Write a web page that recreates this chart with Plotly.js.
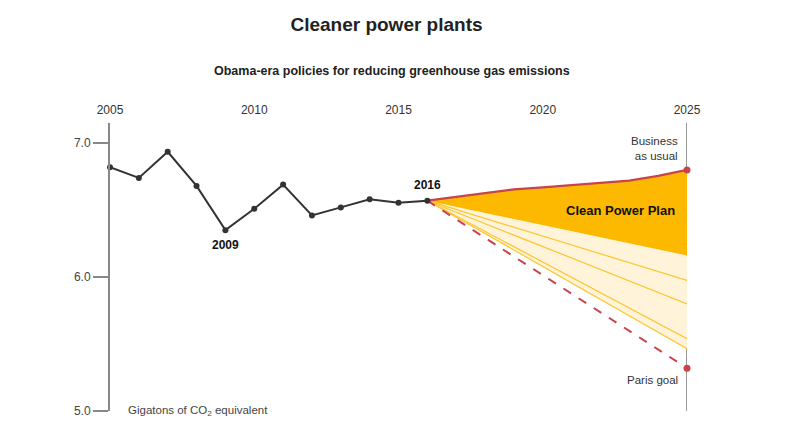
<!DOCTYPE html>
<html>
<head>
<meta charset="utf-8">
<script src="https://cdn.plot.ly/plotly-3.0.1.min.js"></script>
<style>html,body{margin:0;padding:0;background:#fff;}#chart{width:792px;height:434px;}</style>
</head>
<body>
<div id="chart"></div>
<script>
// Historical emissions (gigatons CO2 equivalent)
const histYears = [2005,2006,2007,2008,2009,2010,2011,2012,2013,2014,2015,2016];
const histValues = [6.82,6.74,6.935,6.68,6.35,6.51,6.69,6.46,6.52,6.58,6.555,6.57];

// Business as usual projection
const bauYears = [2016,2017,2018,2019,2020,2021,2022,2023,2024,2025];
const bauValues = [6.57,6.60,6.63,6.655,6.67,6.685,6.70,6.72,6.755,6.80];

// Clean Power Plan lower edge
const cppYears = [2016,2025];
const cppLowValues = [6.57,6.16];

// Fan of scenario lines (end values at 2025)
const fanYears = [2016,2025];
const fanEndValues = [5.975,5.80,5.54,5.465];

// Paris goal path
const parisYears = [2016,2025];
const parisValues = [6.57,5.32];

const yTickVals = [5,6,7];
const yTickText = ['5.0','6.0','7.0'];
const xTickVals = [2005,2010,2015,2020,2025];

const startVal = histValues[histValues.length-1];
const lowestFan = Math.min(...fanEndValues);

const traces = [];
// light fill
traces.push({x:[fanYears[0],fanYears[1],fanYears[1]], y:[startVal,cppLowValues[1],lowestFan],
  fill:'toself', fillcolor:'#fff4d9', mode:'none', hoverinfo:'skip', showlegend:false});
// fan lines
fanEndValues.forEach(v=>{
  traces.push({x:fanYears, y:[startVal,v], mode:'lines', line:{color:'#fcc530',width:1.2}, hoverinfo:'skip', showlegend:false, cliponaxis:false});
});
// CPP fill
traces.push({x:bauYears.concat(cppYears.slice().reverse()), y:bauValues.concat(cppLowValues.slice().reverse()),
  fill:'toself', fillcolor:'#fdb900', mode:'none', hoverinfo:'skip', showlegend:false});
// BAU line
traces.push({x:bauYears, y:bauValues, mode:'lines', line:{color:'#c9434c',width:2.2}, showlegend:false, cliponaxis:false});
// Paris dashed
traces.push({x:parisYears, y:parisValues, mode:'lines', line:{color:'#c9434c',width:2,dash:'dash'}, showlegend:false, cliponaxis:false});
// endpoint markers
traces.push({x:[bauYears[bauYears.length-1], parisYears[1]], y:[bauValues[bauValues.length-1], parisValues[1]],
  mode:'markers', marker:{color:'#c9434c',size:7}, showlegend:false, cliponaxis:false});
// historical line
traces.push({x:histYears, y:histValues, mode:'lines+markers', line:{color:'#333',width:2}, marker:{color:'#333',size:6}, showlegend:false, cliponaxis:false});

const font = 'Liberation Sans, Arial, sans-serif';
const layout = {
  width:792, height:434,
  margin:{l:110, r:105, t:123, b:23},
  paper_bgcolor:'#fff', plot_bgcolor:'#fff',
  font:{family:font, color:'#333'},
  title:{text:'<b>Cleaner power plants</b>', x:0.488, xanchor:'center', y:0.945, yanchor:'middle', font:{family:font, size:19, color:'#222'}},
  xaxis:{range:[2005,2025], side:'top', tickvals:xTickVals, ticktext:xTickVals.map(String), showgrid:false, zeroline:false, showline:false,
    ticks:'', ticklabelstandoff:6, tickfont:{size:12, color:'#333', family:font}, fixedrange:true},
  yaxis:{range:[5,7.15], tickvals:yTickVals, ticktext:yTickText, showgrid:false, zeroline:false,
    showline:true, linecolor:'#888', linewidth:2, ticks:'outside', ticklen:15, tickcolor:'#888', tickwidth:1.5,
    tickfont:{size:12, color:'#444', family:font}, fixedrange:true},
  shapes:[
    {type:'line', xref:'x', yref:'paper', x0:2025, x1:2025, y0:0, y1:1, line:{color:'#777', width:1.5}, layer:'below'}
  ],
  annotations:[
    {xref:'paper', yref:'paper', x:0.488, y:1.0, text:'<b>Obama-era policies for reducing greenhouse gas emissions</b>', showarrow:false, font:{size:12.5,color:'#222',family:font}, xanchor:'center', yanchor:'bottom', yshift:43},
    {x:2009, y:histValues[4], text:'<b>2009</b>', showarrow:false, yshift:-15, font:{size:12,color:'#111',family:font}},
    {x:2016, y:histValues[11], text:'<b>2016</b>', showarrow:false, yshift:16, font:{size:12,color:'#111',family:font}},
    {x:2024.65, y:6.5, text:'<b>Clean Power Plan</b>', showarrow:false, xanchor:'right', font:{size:13,color:'#111',family:font}},
    {x:2025, y:bauValues[bauValues.length-1], text:'Business<br>as usual', showarrow:false, xanchor:'right', yanchor:'bottom', xshift:-7, yshift:6, align:'right', font:{size:11.5,color:'#333',family:font}},
    {x:2025, y:parisValues[1], text:'Paris goal', showarrow:false, xanchor:'right', yanchor:'top', xshift:-7, yshift:-4, font:{size:11.5,color:'#333',family:font}},
    {x:2005, y:5, text:'Gigatons of CO<sub>2</sub> equivalent', showarrow:false, xanchor:'left', yanchor:'middle', xshift:16, font:{size:11.5,color:'#444',family:font}}
  ]
};
Plotly.newPlot('chart', traces, layout, {displayModeBar:false, staticPlot:true});
</script>
</body>
</html>
